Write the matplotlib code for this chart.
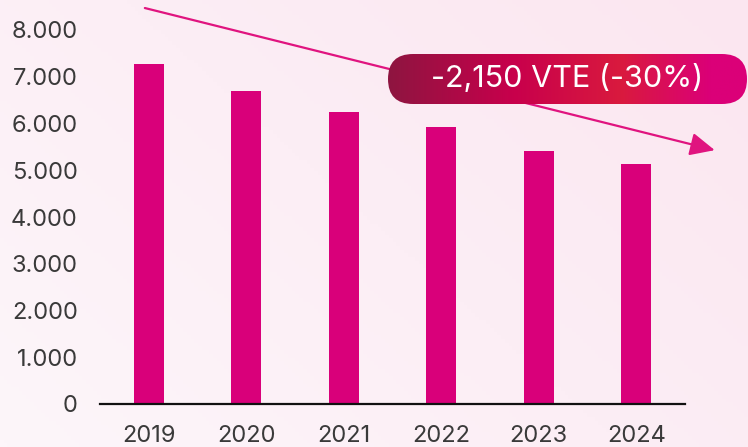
import matplotlib
matplotlib.use('Agg')
import matplotlib.pyplot as plt
import numpy as np
from matplotlib.colors import LinearSegmentedColormap
from matplotlib.patches import FancyBboxPatch

YEARS = ['2019', '2020', '2021', '2022', '2023', '2024']
VTE = [7280, 6700, 6250, 5930, 5410, 5130]
Y_TICKS = [0, 1000, 2000, 3000, 4000, 5000, 6000, 7000, 8000]
Y_LABELS = ['0', '1.000', '2.000', '3.000', '4.000', '5.000', '6.000', '7.000', '8.000']
BADGE_TEXT = '-2,150 VTE (-30%)'

BAR_COLOR = '#d9007a'
ARROW_COLOR = '#e0147f'
TEXT_COLOR = '#3a3a3a'

plt.rcParams['font.family'] = ['Inter', 'DejaVu Sans']

fig = plt.figure(figsize=(7.48, 4.47), dpi=100)

# soft pink background
bg = fig.add_axes([0, 0, 1, 1], zorder=-10)
bg.axis('off')
gx, gy = np.meshgrid(np.linspace(0, 1, 200), np.linspace(0, 1, 120))
shade = 0.6 * gx + 0.4 * gy
bg_cmap = LinearSegmentedColormap.from_list('bg', ['#fdf6fa', '#fbe6f0'])
bg.imshow(shade, cmap=bg_cmap, aspect='auto', extent=[0, 1, 0, 1], origin='lower')

ax = fig.add_axes([100 / 748, 43 / 447, 585 / 748, 374 / 447])
ax.patch.set_alpha(0)
x = np.arange(len(YEARS))
ax.bar(x, VTE, width=0.31, color=BAR_COLOR, zorder=2)

ax.set_xlim(-0.5, 5.5)
ax.set_ylim(0, 8000)
ax.set_xticks(x)
ax.set_xticklabels(YEARS)
ax.set_yticks(Y_TICKS)
ax.set_yticklabels(Y_LABELS)
ax.tick_params(axis='both', length=0, labelsize=17, labelcolor=TEXT_COLOR)
ax.tick_params(axis='y', pad=16)
ax.tick_params(axis='x', pad=15)
for s in ['top', 'right', 'left']:
	ax.spines[s].set_visible(False)
ax.spines['bottom'].set_color('#111111')
ax.spines['bottom'].set_linewidth(1.6)

# trend arrow
ax.annotate('', xy=(5.805, 5430), xytext=(-0.04, 8470),
			arrowprops=dict(arrowstyle='-|>,head_length=0.75,head_width=0.35',
							mutation_scale=20, lw=1.6, color=ARROW_COLOR,
							shrinkA=0, shrinkB=0),
			annotation_clip=False, zorder=3)

# gradient badge
bax = fig.add_axes([388 / 748, (447 - 104) / 447, 359 / 748, 50 / 447], zorder=5)
bax.axis('off')
bax.set_xlim(0, 359)
bax.set_ylim(0, 50)
badge_cmap = LinearSegmentedColormap.from_list(
	'badge', [(0, '#8e1540'), (0.35, '#c8004c'), (0.65, '#d91a3e'), (0.9, '#db0078'), (1, '#db0078')])
grad = np.linspace(0, 1, 256).reshape(1, -1)
img = bax.imshow(grad, cmap=badge_cmap, aspect='auto', extent=[0, 359, 0, 50])
pill = FancyBboxPatch((0, 0), 359, 50, boxstyle='round,pad=0,rounding_size=25',
					  transform=bax.transData, facecolor='none', edgecolor='none')
bax.add_patch(pill)
img.set_clip_path(pill)
bax.text(179, 25, BADGE_TEXT, color='white', fontsize=22, ha='center', va='center')

plt.savefig('out.png', dpi=100)
